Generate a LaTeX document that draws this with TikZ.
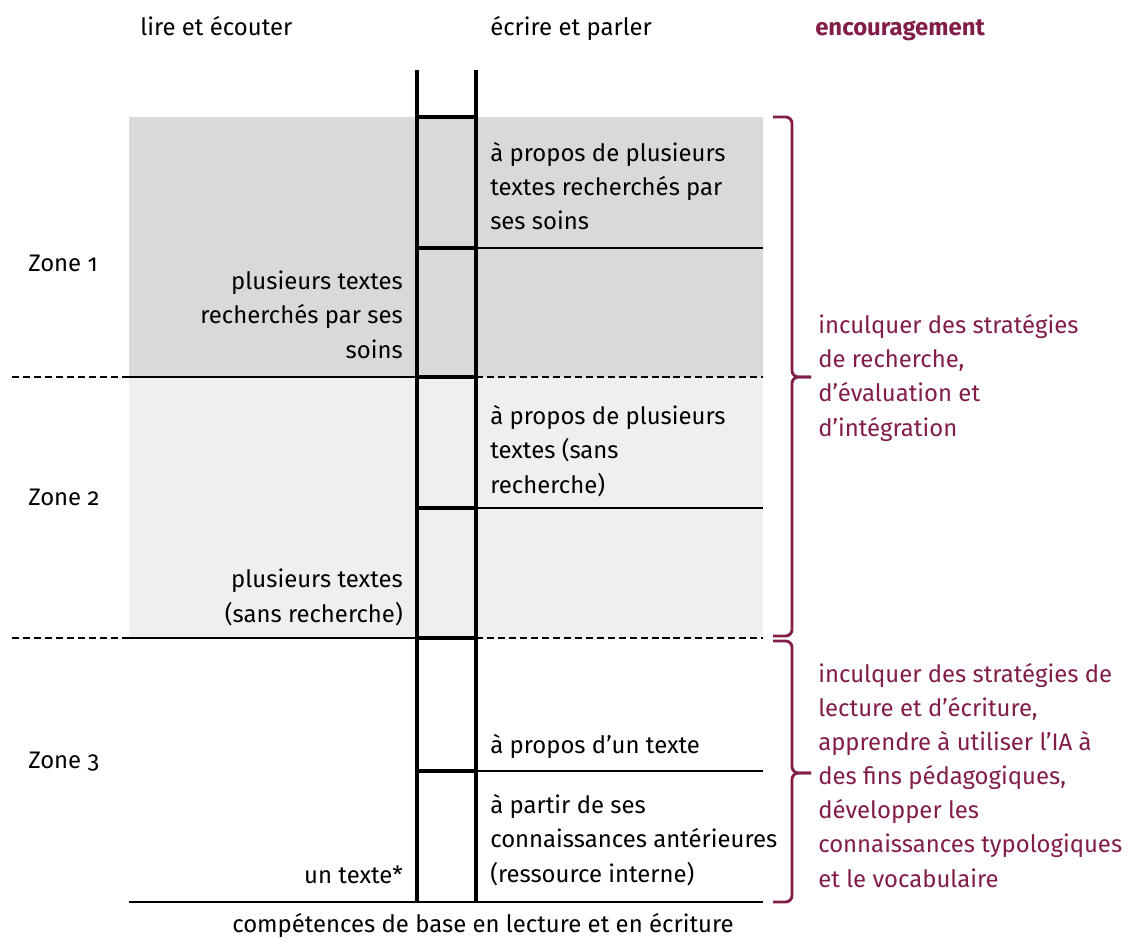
\documentclass[tikz,border=0pt]{standalone}
\usepackage{fontspec}
\setmainfont{Fira Sans}[Numbers=OldStyle]
\usepackage{xcolor}

\definecolor{bordeaux}{RGB}{130,28,72}
\definecolor{zoneA}{HTML}{D9D9D9}
\definecolor{zoneB}{HTML}{EFEFEF}

\tikzset{
  txt/.style={inner sep=0pt,font=\fontsize{17}{24.2}\selectfont},
  lft/.style={txt,anchor=base east,align=right},
  rgt/.style={txt,anchor=base west,align=left},
  rail/.style={line width=3.5pt},
  rung/.style={line width=3pt},
  fine/.style={line width=1.3pt},
  zonebreak/.style={line width=1.1pt,dash pattern=on 5pt off 2.8pt},
  klammer/.style={bordeaux,line width=2pt,rounded corners=1.6mm},
}

\begin{document}
\begin{tikzpicture}[x=0.025cm,y=-0.025cm]
\useasboundingbox (0,0) rectangle (1129,951);
% shaded zones
\fill[zoneA] (129,117) rectangle (763,377);
\fill[zoneB] (129,377) rectangle (763,638);
% zone borders
\draw[zonebreak] (12,377) -- (129,377);
\draw[fine] (129,377) -- (417,377);
\draw[zonebreak] (476,377) -- (763,377);
\draw[zonebreak] (12,638) -- (129,638);
\draw[fine] (129,638) -- (417,638);
\draw[zonebreak] (476,638) -- (763,638);
\draw[fine] (476,248) -- (763,248);
\draw[fine] (476,508) -- (763,508);
\draw[fine] (476,771) -- (763,771);
\draw[fine] (129,902) -- (763,902);
% ladder
\coordinate (lt) at (417,70);
\coordinate (lb) at (417,902);
\coordinate (rt) at (476,70);
\coordinate (rb) at (476,902);
\draw[rail] (lt) -- (lb);
\draw[rail] (rt) -- (rb);
\foreach \y in {117,248,377,508,638,771}
  \draw[rung] (417,\y) -- (476,\y);
% headings
\node[rgt] (lire) at (140,36) {lire et écouter};
\node[rgt] (ecrire) at (490,36) {écrire et parler};
\node[rgt,bordeaux,font=\fontsize{17}{24.2}\selectfont\bfseries] (encour) at (815,36) {encouragement};
% zones
\node[rgt] (zone1) at (28,272) {Zone 1};
\node[rgt] (zone2) at (28,505) {Zone 2};
\node[rgt] (zone3) at (28,768) {Zone 3};
% reading side (anchored on the last line)
\node[lft] (lireA) at (403,358) {plusieurs textes\\recherchés par ses\\soins};
\node[lft] (lireB) at (403,622) {plusieurs textes\\(sans recherche)};
\node[lft] (lireC) at (403,883) {un texte*};
% writing side
\node[rgt] (ecrireA) at (490,230) {à propos de plusieurs\\textes recherchés par\\ses soins};
\node[rgt] (ecrireB) at (490,493) {à propos de plusieurs\\textes (sans\\recherche)};
\node[rgt] (ecrireC) at (490,753) {à propos d’un texte};
\node[rgt] (ecrireD) at (490,882) {à partir de ses\\connaissances antérieures\\(ressource interne)};
% support brackets
\draw[klammer] (773,117) -- (792,117) -- (792,377) -- (811,377);
\draw[klammer] (773,636) -- (792,636) -- (792,377) -- (811,377);
\draw[klammer] (773,641) -- (792,641) -- (792,773) -- (811,773);
\draw[klammer] (773,902) -- (792,902) -- (792,773) -- (811,773);
\node[rgt,bordeaux] (soutienA) at (818,436) {inculquer des stratégies\\de recherche,\\d’évaluation et\\d’intégration};
\node[rgt,bordeaux] (soutienB) at (818,887) {inculquer des stratégies de\\lecture et d’écriture,\\apprendre à utiliser l’IA à\\des fins pédagogiques,\\développer les\\connaissances typologiques\\et le vocabulaire};
% base line label
\node[txt,anchor=base west] (base) at (232,932) {compétences de base en lecture et en écriture};
\end{tikzpicture}
\end{document}
